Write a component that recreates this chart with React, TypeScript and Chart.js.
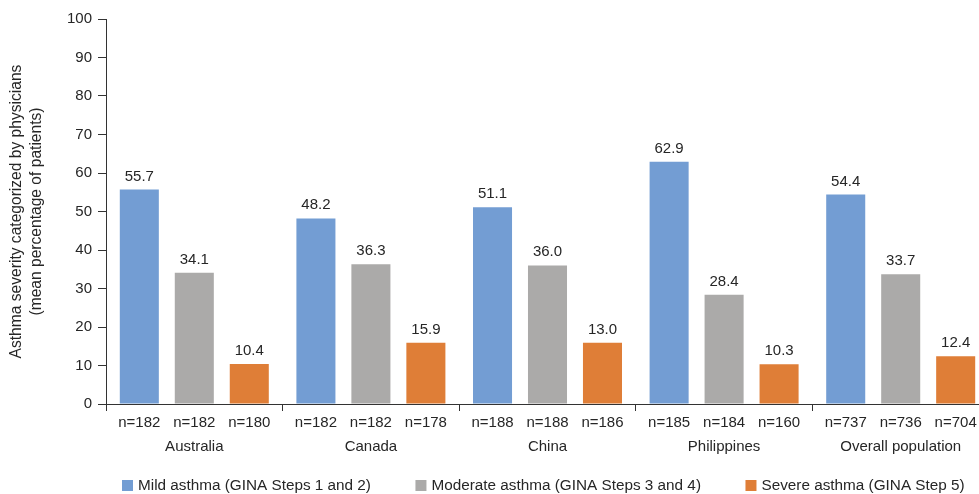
import React, { useEffect, useRef } from "react";
import { Chart, registerables } from "chart.js";

Chart.register(...registerables);

const categories = ["Australia", "Canada", "China", "Philippines", "Overall population"];
const seriesNames = [
  "Mild asthma (GINA Steps 1 and 2)",
  "Moderate asthma (GINA Steps 3 and 4)",
  "Severe asthma (GINA Step 5)",
];
// bar heights as drawn in the figure
const mild = [55.7, 48.2, 51.1, 62.9, 54.4];
const moderate = [34.1, 36.3, 36.0, 28.4, 33.7];
const severe = [10.4, 15.9, 15.9, 10.3, 12.4];
// value labels printed above the bars
const mildLabels = ["55.7", "48.2", "51.1", "62.9", "54.4"];
const moderateLabels = ["34.1", "36.3", "36.0", "28.4", "33.7"];
const severeLabels = ["10.4", "15.9", "13.0", "10.3", "12.4"];
// sample sizes under each bar
const mildN = [182, 182, 188, 185, 737];
const moderateN = [182, 182, 188, 184, 736];
const severeN = [180, 178, 186, 160, 704];
const yTitle = ["Asthma severity categorized by physicians", "(mean percentage of patients)"];

const colors = ["#739dd3", "#abaaa9", "#df7e37"];
const FONT = "Liberation Sans, Arial, sans-serif";
const TEXT = "#262626";

const valueLabels = [mildLabels, moderateLabels, severeLabels];
const nLabels = [mildN, moderateN, severeN];

const labelPlugin = {
  id: "barLabels",
  afterDatasetsDraw(chart: any) {
    const ctx = chart.ctx;
    const xScale = chart.scales.x;
    ctx.save();
    ctx.font = `15px ${FONT}`;
    ctx.fillStyle = TEXT;
    ctx.textAlign = "center";
    chart.data.datasets.forEach((_: any, i: number) => {
      const meta = chart.getDatasetMeta(i);
      meta.data.forEach((el: any, j: number) => {
        ctx.textBaseline = "alphabetic";
        ctx.fillText(valueLabels[i][j], el.x, el.y - 9);
        ctx.textBaseline = "middle";
        ctx.fillText("n=" + nLabels[i][j], el.x, xScale.top + 19);
      });
    });
    ctx.restore();
  },
  afterDraw(chart: any) {
    const ctx = chart.ctx;
    ctx.save();
    ctx.font = `15.3px ${FONT}`;
    const box = 11;
    const gapText = 5;
    const gapItem = 44.5;
    const widths = chart.data.datasets.map((d: any) => ctx.measureText(d.label).width);
    const ca = chart.chartArea;
    let x = ca.left + 16;
    const y = 486;
    chart.data.datasets.forEach((d: any, i: number) => {
      ctx.fillStyle = d.backgroundColor;
      ctx.fillRect(x, y - 6, box, box);
      ctx.fillStyle = TEXT;
      ctx.textAlign = "left";
      ctx.textBaseline = "middle";
      ctx.fillText(d.label, x + box + gapText, y);
      x += box + gapText + widths[i] + gapItem;
    });
    ctx.restore();
  },
};

export default function App() {
  const ref = useRef<HTMLCanvasElement>(null);
  useEffect(() => {
    document.body.style.margin = "0";
    document.body.style.overflow = "hidden";
    const chart = new Chart(ref.current!, {
      type: "bar",
      data: {
        labels: categories,
        datasets: [mild, moderate, severe].map((data, i) => ({
          label: seriesNames[i],
          data,
          backgroundColor: colors[i],
          borderWidth: 0,
          categoryPercentage: 0.934,
          barPercentage: 0.71,
        })),
      },
      options: {
        responsive: false,
        animation: false,
        devicePixelRatio: 1,
        layout: { padding: { top: 19, right: 11, left: 0, bottom: 0 } },
        plugins: { legend: { display: false }, tooltip: { enabled: false } },
        scales: {
          x: {
            afterFit: (s: any) => {
              s.height = 90;
            },
            grid: { offset: true, drawOnChartArea: false, tickLength: 7, color: "#333" },
            border: { color: "#333" },
            ticks: { font: { family: FONT, size: 15 }, color: TEXT, padding: 27 },
          },
          y: {
            min: 0,
            max: 100,
            afterFit: (s: any) => {
              s.width = 106;
            },
            ticks: { stepSize: 10, font: { family: FONT, size: 15 }, color: TEXT, padding: 6 },
            grid: { drawOnChartArea: false, tickLength: 8, color: "#333" },
            border: { color: "#333" },
            title: {
              display: true,
              text: yTitle,
              font: { family: FONT, size: 15.6, lineHeight: 1.25 },
              color: TEXT,
              padding: { top: 7, bottom: 0 },
            },
          },
        },
      },
      plugins: [labelPlugin],
    });
    return () => chart.destroy();
  }, []);
  return (
    <div style={{ width: 979, height: 494, overflow: "hidden" }}>
      <canvas ref={ref} width={1000} height={494} style={{ width: 1000, height: 494, display: "block" }} />
    </div>
  );
}
